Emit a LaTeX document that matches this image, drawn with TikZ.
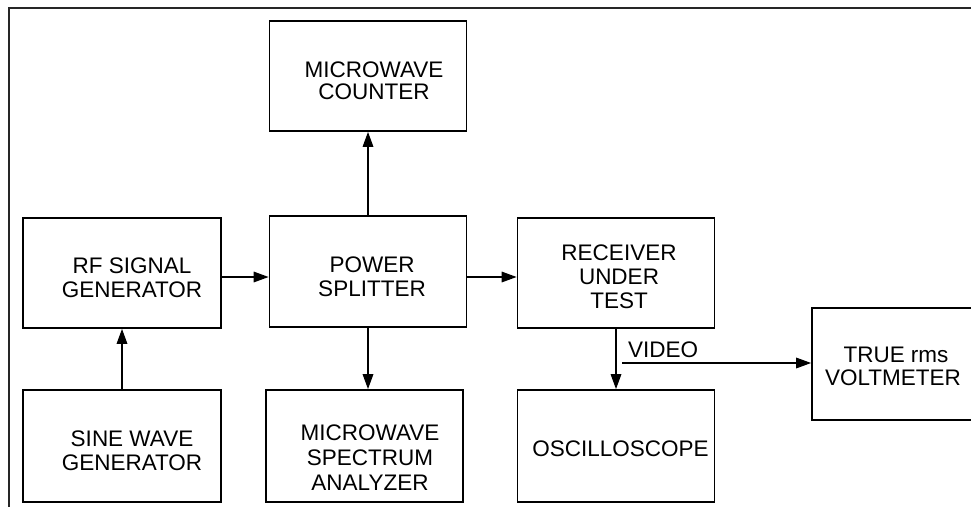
\documentclass[tikz,border=0pt]{standalone}
\usepackage{fontspec}
\setmainfont{Liberation Sans}
\usetikzlibrary{arrows.meta}
\begin{document}
\begin{tikzpicture}[x=1pt,y=-1pt,
  blk/.style={draw=black,line width=1.7pt,inner sep=0pt},
  lbl/.style={align=center,inner sep=0pt,font=\fontsize{22.5}{24.5}\selectfont},
  conn/.style={line width=1.6pt,-{Triangle[length=15pt,width=10.5pt]}}]
\useasboundingbox (0,0) rectangle (971,506);
% frame
\draw[line width=1.4pt,draw=black!85] (9,520) -- (9,8) -- (990,8);
% boxes
\node[blk,minimum width=197pt,minimum height=110pt] (ctr) at (368,76) {};
\node[blk,minimum width=198pt,minimum height=110pt] (rf) at (122,273) {};
\node[blk,minimum width=197pt,minimum height=111pt] (ps) at (368,271.5) {};
\node[blk,minimum width=197pt,minimum height=110pt] (rx) at (616,273) {};
\node[blk,minimum width=198pt,minimum height=112pt] (sine) at (122,446) {};
\node[blk,minimum width=197pt,minimum height=112pt] (spec) at (364.5,446) {};
\node[blk,minimum width=197pt,minimum height=112pt] (osc) at (616,446) {};
\node[blk,minimum width=180pt,minimum height=112pt] (volt) at (902,364) {};
% labels
\node[lbl,font=\fontsize{22.5}{22.3}\selectfont] (tctr) at (374,80.8) {MICROWAVE\\COUNTER};
\node[lbl] (trf) at (132,277.8) {RF SIGNAL\\GENERATOR};
\node[lbl] (tps) at (372,276.7) {POWER\\SPLITTER};
\node[lbl,font=\fontsize{22.5}{24}\selectfont] (trx) at (619,276.3) {RECEIVER\\UNDER\\TEST};
\node[lbl,font=\fontsize{22.5}{24}\selectfont] (tsine) at (132,450.7) {SINE WAVE\\GENERATOR};
\node[lbl,font=\fontsize{22.5}{25}\selectfont] (tspec) at (370,457.5) {MICROWAVE\\SPECTRUM\\ANALYZER};
\node[lbl] (tosc) at (620.5,448.7) {OSCILLOSCOPE};
\node[lbl,font=\fontsize{22.5}{23.7}\selectfont] (tvolt) at (893,366.3) {\hspace*{6pt}TRUE rms\\VOLTMETER};
\node[lbl] (tvid) at (663,350) {VIDEO};
% connectors
\draw[conn] (ps.north) -- (ctr.south);
\draw[conn] (rf.east |- 0,277) -- (ps.west |- 0,277);
\draw[conn] (ps.east |- 0,277) -- (rx.west |- 0,277);
\draw[conn] (sine.north) -- (rf.south);
\draw[conn] (ps.south) -- (ps.south |- spec.north);
\draw[conn] (rx.south) -- (osc.north);
\coordinate (vstart) at (622,363);
\draw[conn] (vstart) -- (volt.west |- vstart);
\end{tikzpicture}
\end{document}
